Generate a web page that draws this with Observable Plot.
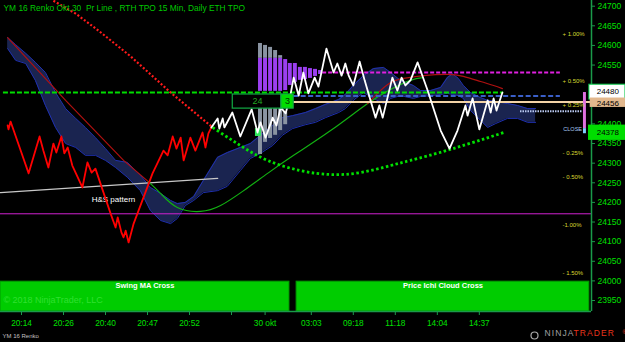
<!DOCTYPE html>
<html>
<head>
<meta charset="utf-8">
<script src="https://cdn.jsdelivr.net/npm/d3@7"></script>
<script src="https://cdn.jsdelivr.net/npm/@observablehq/plot@0.6"></script>
<style>
  html, body { margin: 0; padding: 0; background: #000; overflow: hidden; }
  #chart svg { display: block; }
</style>
</head>
<body>
<div id="chart"></div>
<script>
// ---------------- data ----------------
const chartTitle = "YM 16 Renko Okt.30\u00a0 Pr Line , RTH TPO 15 Min, Daily ETH TPO";
const instrumentLabel = "YM 16 Renko";
const copyrightText = "\u00a9 2018 NinjaTrader, LLC";

// x axis: renko bar index
const xTickBars   = [5, 15, 25, 35, 45, 55, 63, 74, 84, 94, 104, 114];
const xTickLabels = ["20:14", "20:26", "20:40", "20:47", "20:52", "", "30 okt", "03:03", "09:18", "11:18", "14:04", "14:37"];
const yTicks = [23950, 24000, 24050, 24100, 24150, 24200, 24250, 24300, 24350, 24400, 24450, 24500, 24550, 24600, 24650, 24700];
// tick labels hidden behind the price markers on the axis
const yTicksCovered = [24450, 24500];

// overnight (red) price line
const ethBars   = [1.7,1.9,2.4,6.7,7.6,9.3,10.2,11.4,12.6,13.3,14.5,15.2,16.0,17.1,19.5,20.7,21.7,22.6,26.2,27.4,27.9,28.8,29.3,29.8,30.5,31.7,36.2,38.8,39.8,41.0,41.9,42.9,43.6,45.2,46.4,48.1,48.8,49.5,50.2];
const ethPrices = [24396,24386,24406,24274,24307,24368,24332,24289,24350,24327,24368,24325,24340,24294,24238,24302,24276,24286,24172,24136,24162,24123,24111,24128,24098,24146,24274,24332,24320,24368,24337,24365,24307,24365,24332,24378,24340,24376,24391];
// session (white) price line
const rthBars   = [50.2,51.7,52.1,52.9,53.3,55.2,57.1,59.8,61.2,61.9,63.1,64.8,65.7,66.7,67.9,69.0,69.8,71.0,72.1,73.3,74.8,75.7,77.6,79.3,80.2,81.2,82.1,82.9,84.0,85.5,86.7,88.1,89.3,90.2,91.0,93.3,94.5,95.5,96.4,97.6,99.3,101.7,104.8,106.9,108.8,110.7,111.2,112.4,114.0,116.0,116.7,117.4,118.1,119.5];
const rthPrices = [24391,24414,24388,24414,24391,24429,24368,24437,24378,24404,24365,24416,24396,24442,24427,24472,24518,24472,24531,24478,24518,24495,24592,24531,24554,24523,24554,24523,24498,24559,24511,24460,24416,24447,24416,24518,24485,24518,24498,24511,24557,24485,24383,24337,24383,24447,24421,24465,24386,24460,24429,24465,24434,24480];

// Ichimoku cloud
const cloudBars = [1.7,3.6,6.0,8.3,10.7,13.1,15.5,17.9,20.2,22.6,25.0,27.4,30.2,33.3,35.7,38.1,40.5,42.1,44.0,46.0,48.3,51.7,54.0,57.1,59.5,61.9,64.8,67.1,69.5,72.6,75.0,77.4,80.5,82.1,84.0,86.4,88.8,91.2,92.9,95.2,98.3,100.0,102.4,104.8,106.4,107.6,109.0,110.2,111.9,114.3,116.0,117.9,120.7,123.1,125.5,127.4];
const cloudTop  = [24620,24602,24580,24557,24531,24480,24439,24414,24391,24365,24337,24307,24302,24269,24238,24223,24205,24197,24200,24215,24256,24315,24327,24340,24350,24371,24396,24416,24421,24429,24439,24450,24462,24475,24498,24523,24541,24544,24531,24511,24498,24485,24485,24493,24518,24528,24516,24498,24480,24467,24460,24457,24452,24447,24439,24439];
const cloudBot  = [24592,24562,24554,24511,24447,24391,24350,24340,24320,24320,24307,24289,24264,24230,24179,24154,24146,24159,24192,24205,24225,24230,24241,24281,24312,24325,24345,24371,24388,24398,24404,24416,24429,24439,24460,24480,24465,24452,24465,24472,24465,24470,24472,24475,24478,24475,24472,24465,24434,24409,24391,24401,24414,24414,24404,24404];

// swing MA (dark red / green) curves
const maDownBars   = [1.7, 15.5, 29.3, 35.2];
const maDownPrices = [24620, 24460, 24307, 24253];
const maUpBars     = [35.2, 38.1, 42.1, 47.6, 52.4, 57.9, 63.6, 69.8, 78.6, 87.4, 92.9, 97.6, 100.5];
const maUpPrices   = [24253, 24223, 24187, 24177, 24192, 24230, 24274, 24320, 24383, 24452, 24488, 24511, 24518];
const maArcBars    = [87.4, 92.1, 96.0, 100.7, 106.4, 110.2, 114.3, 117.4, 119.5];
const maArcPrices  = [24452, 24500, 24516, 24523, 24526, 24521, 24508, 24498, 24490];

// regression (dotted) curve
const regDownBars   = [12.6, 17.9, 23.3, 31.0, 40.5, 50.5];
const regDownPrices = [24714, 24681, 24638, 24572, 24480, 24391];
const regUpBars     = [50.5, 57.1, 63.6, 71.4, 78.6, 85.7, 92.9, 97.6, 107.1, 119.8];
const regUpPrices   = [24391, 24345, 24307, 24281, 24271, 24276, 24294, 24307, 24335, 24378];

// head & shoulders neckline
const neckBars   = [0, 51.7];
const neckPrices = [24225, 24261];
const neckLabel  = "H&S pattern";

// Daily ETH TPO profile columns
const ethTpoBars  = [61.9, 63.1, 64.3, 65.5, 66.7, 67.9, 69.0, 70.2, 71.4, 72.6, 73.8, 75.0, 76.2];
const ethTpoHigh  = [24567, 24567, 24567, 24567, 24567, 24564, 24554, 24554, 24544, 24544, 24541, 24539, 24536];
const ethTpoLow   = [24483, 24483, 24483, 24483, 24483, 24485, 24498, 24506, 24511, 24513, 24516, 24521, 24526];
const ethTpoCap   = [24605, 24600, 24595, 24587, 24574];
// RTH TPO 15 min columns
const rthTpoBars = [61.9, 63.1, 64.3, 65.5, 66.7, 67.9];
const rthTpoHigh = [24439, 24439, 24439, 24439, 24439, 24429];
const rthTpoLow  = [24322, 24353, 24363, 24371, 24383, 24398];
const tpoCountText = ["24", "3"];

// horizontal levels
const levelNames  = ["prior", "value", "poc", "high", "support", "close"];
const levelPrices = [24480, 24471, 24456, 24531, 24171, 24432];
const levelFrom   = [0.7, 69.8, 69.8, 76.7, 0, 123.8];
const levelTo     = [119.8, 133.3, 140.7, 133.3, 140.7, 138.6];

// percentage bands around close
const closeRef  = 24386;
const pctLevels = [1.0, 0.5, 0.25, -0.25, -0.5, -1.0, -1.5];
const pctLabels = ["+ 1.00%", "+ 0.50%", "+ 0.25%", "- 0.25%", "- 0.50%", "-1.00%", "- 1.50%"];

// price markers on the axis
const markerPrices = [24480, 24456, 24378];

// signal panels
const signalNames = ["Swing MA Cross", "Price Ichi Cloud Cross"];
const signalStart = [0, 70.5];
const signalEnd   = [68.8, 140.2];
const signalTop   = 23998;

// ---------------- build ----------------
const xMax = 140.71, yMin = 23922, yMax = 24714.5;
const zip = (xs, ys) => xs.map((x, i) => ({bar: x, price: ys[i]}));
const ethLine = zip(ethBars, ethPrices);
const rthLine = zip(rthBars, rthPrices);
const cloud = cloudBars.map((b, i) => ({bar: b, top: cloudTop[i], bot: cloudBot[i]}));
const ethTpo = ethTpoBars.map((b, i) => ({bar: b, hi: ethTpoHigh[i], lo: ethTpoLow[i], cap: ethTpoCap[i]}));
const rthTpo = rthTpoBars.map((b, i) => ({bar: b, hi: rthTpoHigh[i], lo: rthTpoLow[i]}));
const levels = levelNames.map((n, i) => ({name: n, price: levelPrices[i], from: levelFrom[i], to: levelTo[i]}));
const lvl = n => levels.filter(d => d.name === n);
const pcts = pctLevels.map((p, i) => ({price: closeRef * (1 + p / 100), label: pctLabels[i]}));
const signals = signalNames.map((n, i) => ({name: n, start: signalStart[i], end: signalEnd[i]}));
const xLabel = new Map(xTickBars.map((b, i) => [b, xTickLabels[i]]));
const markers = markerPrices.map(p => ({price: p, label: String(p)}));

const GRID = "#1a9a4a", TXT = "#00e000";
const DOT = {strokeLinecap: "butt", strokeLinejoin: "miter"};

const chart = Plot.plot({
  width: 625, height: 342,
  marginTop: 0, marginBottom: 31, marginLeft: 0, marginRight: 34,
  style: {background: "#000", fontFamily: "'Liberation Sans', Arial, sans-serif"},
  x: {domain: [0, xMax]},
  y: {domain: [yMin, yMax]},
  marks: [
    // signal panels
    Plot.rect(signals, {x1: "start", x2: "end", y1: yMin, y2: signalTop, fill: "#00cc00", stroke: "#009a00"}),
    Plot.text([copyrightText], {x: 0.7, y: 23950, text: d => d, textAnchor: "start", fill: "#30e030", fontSize: 9}),
    Plot.text(signals, {x: d => (d.start + d.end) / 2, y: 23987, text: "name", fill: "#fff", fontWeight: "bold", fontSize: 7.5}),
    // cloud
    Plot.areaY(cloud, {x: "bar", y1: "bot", y2: "top", fill: "#1a2450"}),
    Plot.line(cloud, {x: "bar", y: "top", stroke: "#1f30b0", strokeWidth: 1}),
    Plot.line(cloud, {x: "bar", y: "bot", stroke: "#1f30b0", strokeWidth: 1}),
    // support line
    Plot.ruleY(lvl("support"), {y: "price", x1: "from", x2: "to", stroke: "#d020d0", strokeWidth: 1}),
    // neckline
    Plot.line(zip(neckBars, neckPrices), {x: "bar", y: "price", stroke: "#c8c8c8", strokeWidth: 1.3}),
    Plot.text([neckLabel], {x: 26.9, y: 24207, text: d => d, fill: "#fff", fontSize: 8}),
    // swing MA curves
    Plot.line(zip(maDownBars, maDownPrices), {x: "bar", y: "price", stroke: "#b01010", strokeWidth: 1.2}),
    Plot.line(zip(maUpBars, maUpPrices), {x: "bar", y: "price", stroke: "#12b012", strokeWidth: 1.2, curve: "natural"}),
    Plot.line(zip(maArcBars, maArcPrices), {x: "bar", y: "price", stroke: "#b01010", strokeWidth: 1.2, curve: "natural"}),
    // TPO profiles
    Plot.rect(ethTpo.filter(d => d.cap), {x1: d => d.bar - 0.47, x2: d => d.bar + 0.47, y1: "hi", y2: "cap", fill: "#8a94a2"}),
    Plot.rect(ethTpo, {x1: d => d.bar - 0.47, x2: d => d.bar + 0.47, y1: "lo", y2: "hi", fill: "#9b3ff0"}),
    Plot.rect(rthTpo, {x1: d => d.bar - 0.47, x2: d => d.bar + 0.47, y1: "lo", y2: "hi", fill: "#8a94a2"}),
    Plot.rect([0], {x1: 60.7, x2: 62.1, y1: 24368, y2: 24388, fill: "#2eea5a"}),
    // levels
    Plot.ruleY(lvl("high"), {y: "price", x1: "from", x2: "to", stroke: "#e020e0", strokeWidth: 2, strokeDasharray: "4,2"}),
    Plot.ruleY(lvl("prior"), {y: "price", x1: "from", x2: "to", stroke: "#00dd00", strokeWidth: 2, strokeDasharray: "5,2"}),
    Plot.ruleY(lvl("value"), {y: "price", x1: "from", x2: "to", stroke: "#3a5fc8", strokeWidth: 2, strokeDasharray: "5,2.5"}),
    Plot.ruleY(lvl("poc"), {y: "price", x1: "from", x2: "to", stroke: "#f2d2a6", strokeWidth: 2}),
    Plot.ruleY(lvl("close"), {y: "price", x1: "from", x2: "to", stroke: "#b8c8f0", strokeWidth: 2, strokeDasharray: "1.5,1"}),
    // regression dotted curve
    Plot.line(zip(regDownBars, regDownPrices), {x: "bar", y: "price", stroke: "#ff1a1a", strokeWidth: 2.2, strokeDasharray: "2,2", ...DOT}),
    Plot.line(zip(regUpBars, regUpPrices), {x: "bar", y: "price", stroke: "#00e000", strokeWidth: 2.8, strokeDasharray: "2.5,2.5", curve: "natural", ...DOT}),
    // price line
    Plot.line(ethLine, {x: "bar", y: "price", stroke: "#ff0000", strokeWidth: 1.8}),
    Plot.line(rthLine, {x: "bar", y: "price", stroke: "#ffffff", strokeWidth: 1.8}),
    // TPO count box
    Plot.rect([0], {x1: 55.3, x2: 66.9, y1: 24439, y2: 24475, fill: "#000", stroke: "#11aa44", strokeWidth: 1.2}),
    Plot.rect([0], {x1: 66.9, x2: 69.8, y1: 24439, y2: 24475, fill: "#00dd00", stroke: "#11aa44", strokeWidth: 1.2}),
    Plot.text([tpoCountText[0]], {x: 61.2, y: 24457, text: d => d, fill: "#22aa22", fontSize: 9}),
    Plot.text([tpoCountText[1]], {x: 68.35, y: 24457, text: d => d, fill: "#003300", fontSize: 9}),
    // right side range bar
    Plot.rect([0], {x1: 138.8, x2: 139.5, y1: 24388, y2: 24480, fill: "#e070e0"}),
    Plot.rect([0], {x1: 138.8, x2: 139.5, y1: 24375, y2: 24388, fill: "#80d0ff"}),
    // percentage labels
    Plot.text(pcts, {x: 133.8, y: "price", text: "label", textAnchor: "start", fill: "#d8d830", fontSize: 6}),
    Plot.text(["CLOSE"], {x: 134.0, y: closeRef, text: d => d, textAnchor: "start", fill: "#a8c8f0", fontSize: 5.5}),
    // axes & frame
    Plot.axisY(yTicks, {anchor: "right", tickSize: 3, tickPadding: 3, stroke: GRID, fill: TXT, fontSize: 8.5, label: null,
      tickFormat: d => yTicksCovered.includes(d) ? "" : String(d)}),
    Plot.axisX(xTickBars, {anchor: "bottom", tickSize: 4, tickPadding: 5, stroke: GRID, fill: TXT, fontSize: 8.3, label: null, tickFormat: d => xLabel.get(d)}),
    Plot.ruleX([xMax], {stroke: GRID, strokeWidth: 1.5}),
    Plot.ruleY([yMin], {stroke: GRID, strokeWidth: 1.5}),
    // axis price markers
    Plot.rect(markers.slice(0, 1), {x1: 140.2, x2: 148.8, y1: d => d.price - 18, y2: d => d.price + 20, fill: "#fff", stroke: "#00cc44"}),
    Plot.rect(markers.slice(1, 2), {x1: 140.4, x2: 148.8, y1: d => d.price - 14, y2: d => d.price + 10, fill: "#e2b88e"}),
    Plot.rect(markers.slice(2, 3), {x1: 140.0, x2: 148.8, y1: d => d.price - 20, y2: d => d.price + 19, fill: "#00dd00"}),
    Plot.text(markers, {x: 144.6, y: d => d.price + (d.price === 24480 ? 3 : d.price === 24456 ? -3 : 0), text: "label", fill: "#000", fontSize: 8}),
    // titles
    Plot.text([chartTitle], {frameAnchor: "top-left", dx: 3, dy: 4.5, lineAnchor: "top", text: d => d, fill: "#00c800", fontSize: 8.4}),
    Plot.text([instrumentLabel], {frameAnchor: "bottom-left", dx: 2, dy: 26, text: d => d, fill: "#c0c0c0", fontSize: 6}),
    Plot.dot([0], {frameAnchor: "bottom-right", dx: -57, dy: 24, r: 3.5, stroke: "#aaa", strokeWidth: 1.2}),
    Plot.text(["NINJA"], {frameAnchor: "bottom-right", dx: -47, dy: 24, text: d => d, textAnchor: "start", fill: "#a0a0a0", fontSize: 8.5}),
    Plot.text(["TRADER"], {frameAnchor: "bottom-right", dx: -18, dy: 24, text: d => d, textAnchor: "start", fill: "#e8341c", fontSize: 8.5}),
    Plot.text(["\u00ae"], {frameAnchor: "bottom-right", dx: 31, dy: 22, text: d => d, textAnchor: "start", fill: "#e8341c", fontSize: 5})
  ]
});
chart.querySelectorAll("text").forEach(t => {
  if (t.textContent === "NINJA" || t.textContent === "TRADER") t.setAttribute("letter-spacing", "1.1");
});
document.getElementById("chart").appendChild(chart);
</script>
</body>
</html>
